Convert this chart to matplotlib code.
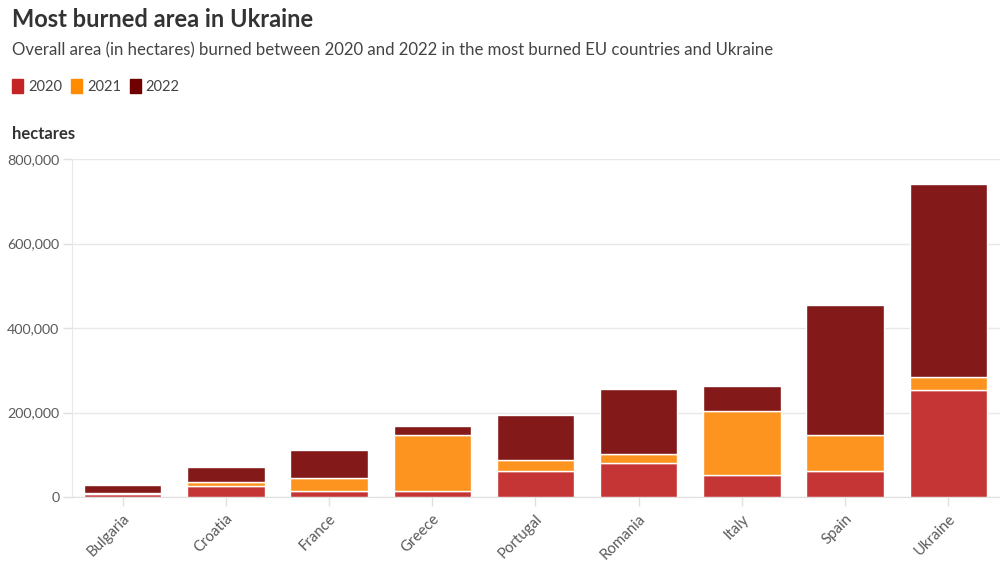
import matplotlib.pyplot as plt
import numpy as np
from matplotlib.patches import Patch

plt.rcParams['font.family'] = ['Lato', 'DejaVu Sans']

countries = ["Bulgaria", "Croatia", "France", "Greece", "Portugal",
             "Romania", "Italy", "Spain", "Ukraine"]
y2020 = [8000, 27000, 14000, 14000, 61500, 80500, 53000, 61000, 254000]
y2021 = [2500, 8000, 31000, 132000, 26000, 21000, 151000, 85000, 30000]
y2022 = [18000, 35000, 67000, 23000, 106000, 153000, 59000, 308000, 457000]
years = ["2020", "2021", "2022"]
bar_colors = ["#c63535", "#fd9420", "#831919"]
legend_colors = ["#c42424", "#ff8c00", "#700000"]

fig = plt.figure(figsize=(10, 5.64), dpi=100)
ax = fig.add_axes([0.072, 0.1188, 0.928, 0.5992])

x = np.arange(len(countries))
bottom = np.zeros(len(countries))
for vals, col in zip([y2020, y2021, y2022], bar_colors):
    ax.bar(x, vals, width=0.75, bottom=bottom, color=col,
           edgecolor="white", linewidth=1.0, zorder=3)
    bottom += np.array(vals)

ax.set_xlim(-0.49, 8.5)
ax.set_ylim(0, 800000)
ax.set_yticks([0, 200000, 400000, 600000, 800000])
ax.set_yticklabels(["0", "200,000", "400,000", "600,000", "800,000"])
ax.set_xticks(x)
ax.set_xticklabels(countries, rotation=45, ha="right", rotation_mode="anchor")

ax.grid(axis="y", color="#e8e8e8", linewidth=1, zorder=0)
for s in ["top", "right"]:
    ax.spines[s].set_visible(False)
ax.spines["left"].set_color("#e8e8e8")
ax.spines["bottom"].set_color("#e0e0e0")
ax.tick_params(axis="both", colors="#e0e0e0", labelcolor="#5a5a5a",
               labelsize=10.3, length=6.5, width=1, pad=2.5)
ax.tick_params(axis="x", labelsize=10.8, pad=4)

fig.text(0.012, 0.965, "Most burned area in Ukraine", fontsize=17,
         fontweight="bold", color="#333333", va="center")
fig.text(0.012, 0.91, "Overall area (in hectares) burned between 2020 and 2022 "
         "in the most burned EU countries and Ukraine", fontsize=12.1,
         color="#444444", va="center")
fig.text(0.012, 0.762, "hectares", fontsize=12, fontweight="bold",
         color="#333333", va="center")

handles = [Patch(facecolor=c, edgecolor=c) for c in legend_colors]
fig.legend(handles, years, loc="center left", bbox_to_anchor=(0.012, 0.846),
           ncol=3, frameon=False, fontsize=10.5, handlelength=0.75,
           handleheight=1.1, handletextpad=0.35, columnspacing=0.6,
           borderpad=0, borderaxespad=0, labelcolor="#444444")

fig.savefig("out.png", dpi=100)
